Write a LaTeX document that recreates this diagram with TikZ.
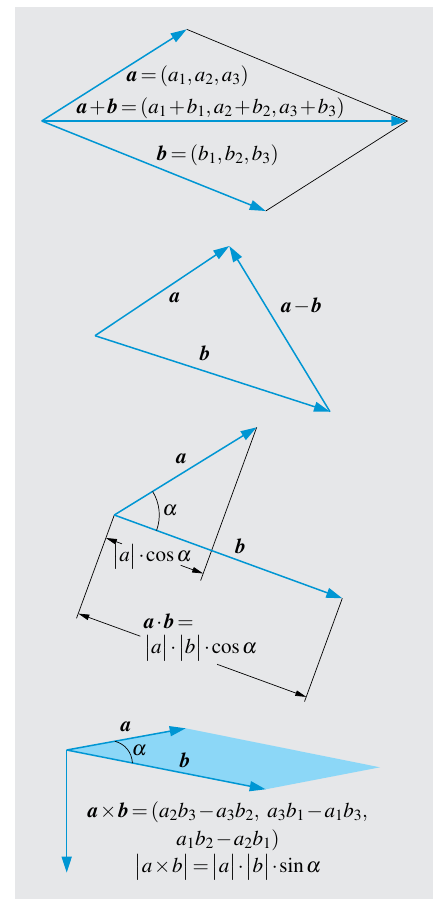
\documentclass[tikz,border=0pt]{standalone}
\usepackage[T1]{fontenc}
\usepackage{mathptmx}
\usepackage{amsmath}
\usetikzlibrary{arrows.meta,calc}
\definecolor{vecblue}{HTML}{0096D3}
\definecolor{areablue}{HTML}{8CD7F7}
\definecolor{panel}{HTML}{E6E7E9}
\newcommand{\bv}[1]{\mbox{\bfseries\itshape #1}}
\newcommand{\nrm}[1]{\bigl|#1\bigr|}
\newcommand{\tightmath}{\thickmuskip=2.5mu\medmuskip=1.5mu}
\tikzset{
  vec/.style={-{Triangle[length=16pt,width=10pt]},line width=1.5pt,draw=vecblue},
  helper/.style={line width=0.7pt,draw=black},
  dimarr/.style={-{Triangle[length=11pt,width=5.5pt]},line width=0.7pt,draw=black},
  lbl/.style={inner sep=0pt,font=\fontsize{21}{25}\selectfont\tightmath}
}

\begin{document}
\begin{tikzpicture}[x=1pt,y=-1pt]
 \useasboundingbox (0,0) rectangle (433,900);
 \fill[panel] (15,7) rectangle (433,899);
 % sum of two vectors
 \coordinate (o1) at (41.7,121);
 \coordinate (a1) at (186.7,29.3);
 \coordinate (b1) at (265.7,211);
 \coordinate (s1) at (407.3,121);
 \draw[helper] (a1)--(s1)--(b1);
 \draw[vec] (o1)--(a1);
 \draw[vec] (o1)--(b1);
 \draw[vec] (o1)--(s1);
 \node[lbl] (avec1) at (188,76) {$\bv{a}=(a_1,a_2,a_3)$};
 \node[lbl] (svec1) at (211,108) {$\bv{a}+\bv{b}=(a_1+b_1,a_2+b_2,a_3+b_3)$};
 \node[lbl] (bvec1) at (218,155) {$\bv{b}=(b_1,b_2,b_3)$};
 % difference
 \coordinate (o2) at (95,335.7);
 \coordinate (a2) at (229.3,246);
 \coordinate (b2) at (330,411.7);
 \draw[vec] (o2)--(a2);
 \draw[vec] (o2)--(b2);
 \draw[vec] (b2)--(a2);
 \node[lbl] (avec2) at (175,298) {$\bv{a}$};
 \node[lbl] (dvec2) at (301.7,306) {$\bv{a}-\bv{b}$};
 \node[lbl] (bvec2) at (205,353) {$\bv{b}$};
 % scalar product
 \coordinate (o3) at (114.3,515);
 \coordinate (a3) at (256.7,427.3);
 \coordinate (b3) at (342.3,598.3);
 \coordinate (e1) at (76.5,618.3);
 \coordinate (e2) at (200.6,580.6);
 \coordinate (e3) at (304.5,701.6);
 \draw[helper] (o3)--(e1);
 \draw[helper] (a3)--(e2);
 \draw[helper] (b3)--(e3);
 \draw[vec] (o3)--(a3);
 \draw[vec] (o3)--(b3);
 \draw[helper] ($(o3)!45pt!(a3)$) arc[start angle=31.6,end angle=-20.1,radius=45pt];
 \coordinate (p1) at (105.9,538.0);
 \coordinate (q1) at (121.9,543.8);
 \coordinate (p2) at (203.2,573.5);
 \coordinate (q2) at (180.7,565.3);
 \draw[dimarr] (q1)--(p1);
 \draw[dimarr] (q2)--(p2);
 \coordinate (p3) at (78.3,613.6);
 \coordinate (q3) at (140.3,636.2);
 \coordinate (p4) at (306.3,696.9);
 \coordinate (q4) at (217.1,664.3);
 \draw[dimarr] (q3)--(p3);
 \draw[dimarr] (q4)--(p4);
 \node[lbl] (avec3) at (181.7,459.3) {$\bv{a}$};
 \node[lbl] (alpha3) at (170,510) {$\alpha$};
 \node[lbl] (bvec3) at (240.7,546) {$\bv{b}$};
 \node[lbl] (proj3) at (152,556.7) {$\nrm{a}\cdot\cos\alpha$};
 \node[lbl,align=left,anchor=north west] (dot3) at (144,614)
   {$\bv{a}\cdot\bv{b}=$\\$\nrm{a}\cdot\nrm{b}\cdot\cos\alpha$};
 % vector product
 \coordinate (o4) at (66.7,750);
 \coordinate (a4) at (185.7,728.3);
 \coordinate (b4) at (265.7,789.3);
 \coordinate (s4) at (380,767.3);
 \coordinate (n4) at (66.7,872.7);
 \fill[areablue] (o4)--(a4)--(s4)--(b4)--cycle;
 \draw[vec] (o4)--(a4);
 \draw[vec] (o4)--(b4);
 \draw[vec] (o4)--(n4);
 \draw[helper] ($(o4)!49pt!(a4)$) to[bend left=35] ($(o4)!67pt!(b4)$);
 \node[lbl] (avec4) at (126,726.7) {$\bv{a}$};
 \node[lbl] (alpha4) at (139.3,750) {$\alpha$};
 \node[lbl] (bvec4) at (185,760) {$\bv{b}$};
 \node[lbl,align=center,font=\fontsize{21}{27.5}\selectfont\tightmath] (cross4) at (228,841)
   {$\bv{a}\times\bv{b}=(a_2b_3-a_3b_2,\ a_3b_1-a_1b_3,$\\$a_1b_2-a_2b_1)$\\$\nrm{a\times b}=\nrm{a}\cdot\nrm{b}\cdot\sin\alpha$};
\end{tikzpicture}
\end{document}
